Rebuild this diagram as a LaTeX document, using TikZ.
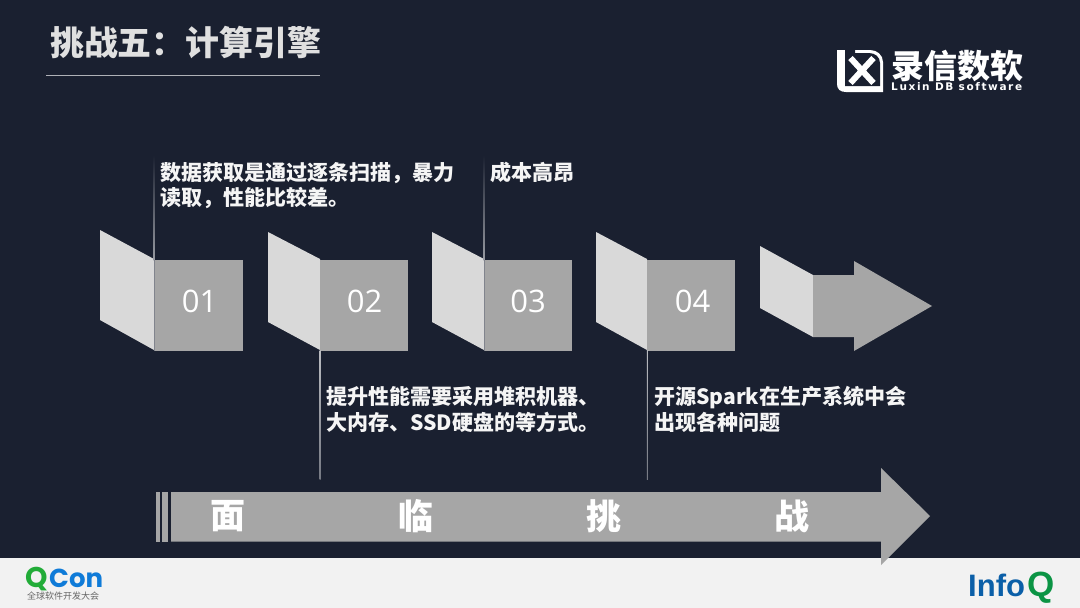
\documentclass[tikz,border=0pt]{standalone}
\usepackage{fontspec}
\setmainfont{Noto Sans CJK SC}
\newfontfamily\numfont{Open Sans}
\newfontfamily\latinlogo[LetterSpace=15.5]{DejaVu Sans}
\newfontfamily\logofont{Liberation Sans}
\newfontfamily\qfont{Poppins}
\definecolor{bgc}{HTML}{1A2030}
\definecolor{footc}{HTML}{F2F2F2}
\definecolor{pale}{HTML}{D9D9D9}
\definecolor{midg}{HTML}{A6A6A6}
\definecolor{qgreen}{HTML}{22AC38}
\definecolor{qblue}{HTML}{0F7BD8}
\definecolor{iblue}{HTML}{0B5FA8}
\definecolor{igreen}{HTML}{0B9444}
\tikzset{
  x=1pt,y=-1pt,
  panel/.style={fill=pale,draw=none},
  sq/.style={fill=midg,draw=none,minimum width=88pt,minimum height=91pt,inner sep=0pt,outer sep=0pt,anchor=north west},
  num/.style={text=white,font=\numfont\fontsize{31}{31}\selectfont,inner sep=0pt},
  body/.style={text=white!96!black,font=\bfseries\fontsize{21.05}{26}\selectfont,inner sep=0pt,anchor=base west},
  big/.style={text=white,font=\bfseries\fontsize{35}{35}\selectfont,inner sep=0pt},
}
\begin{document}
\begin{tikzpicture}[line join=miter]
\useasboundingbox (0,0) rectangle (1080,608);
\fill[bgc] (0,0) rectangle (1080,558);
\fill[footc] (0,558) rectangle (1080,608);
% title
\node[text=white!88!black,font=\bfseries\fontsize{33.9}{34}\selectfont,inner sep=0pt,anchor=base west] (title) at (50,55) {挑战五：计算引擎};
\coordinate (ruleL) at (46,75); \coordinate (ruleR) at (320,75);
\draw[line width=0.8pt,white!65!bgc] (ruleL) -- (ruleR);
% panels
\fill[panel] (100,230) -- (154,259) -- (154,350) -- (100,320) -- cycle;
\fill[panel] (268,232) -- (320,259) -- (320,350) -- (268,322) -- cycle;
\fill[panel] (432,232) -- (484,259) -- (484,350) -- (432,322) -- cycle;
\fill[panel] (596,232) -- (647,259) -- (647,350) -- (596,322) -- cycle;
\node[sq] (s1) at (154.5,260) {};
\node[sq] (s2) at (319.5,260) {};
\node[sq] (s3) at (483.5,260) {};
\node[sq] (s4) at (647,260) {};
\node[num] (n1) at (199.5,301) {01};
\node[num] (n2) at (364.5,301) {02};
\node[num] (n3) at (528,301) {03};
\node[num] (n4) at (692.5,301) {04};
% end arrow
\fill[panel] (760,246) -- (813,275) -- (813,337) -- (760,308) -- cycle;
\fill[midg] (813,275) -- (854,275) -- (854,261) -- (932,306) -- (854,351) -- (854,337) -- (813,337) -- cycle;
% leader lines
\shade[top color=bgc,bottom color=white!55!bgc] (153.6,155) rectangle (154.6,260);
\fill[white!45!bgc] (153.6,260) rectangle (154.6,351);
\shade[top color=bgc,bottom color=white!55!bgc] (483.6,155) rectangle (484.6,260);
\fill[white!45!bgc] (483.6,260) rectangle (484.6,351);
\shade[top color=white!70!bgc,bottom color=white!40!bgc] (319.6,350) rectangle (320.6,479);
\shade[top color=white!70!bgc,bottom color=white!40!bgc] (646.8,350) rectangle (647.8,479);
% texts
\node[body] (t1a) at (160,180) {数据获取是通过逐条扫描，暴力};
\node[body] (t1b) at (160,205) {读取，性能比较差。};
\node[body] (t3) at (490,180) {成本高昂};
\node[body] (t2a) at (326,404) {提升性能需要采用堆积机器、};
\node[body] (t2b) at (326,430) {大内存、SSD硬盘的等方式。};
\node[body] (t4a) at (654,404) {开源Spark在生产系统中会};
\node[body] (t4b) at (654,430) {出现各种问题};
% bottom arrow
\fill[midg] (156,492) rectangle (159.5,541.5);
\fill[midg] (162,492) rectangle (168,541.5);
\fill[midg] (171,492) -- (881,492) -- (881,468) -- (930,516) -- (881,565) -- (881,541.5) -- (171,541.5) -- cycle;
\node[big] (b1) at (227.5,516) {面};
\node[big] (b2) at (416,516) {临};
\node[big] (b3) at (604,516) {挑};
\node[big] (b4) at (792,516) {战};
% LX logo
\fill[white] (837,50) -- (845,50) -- (845,85) -- (855,85) -- (855,50) -- (870,50) .. controls (877,50) and (883,55) .. (883,62) -- (883,92) -- (846,92) .. controls (840,92) and (837,89) .. (837,84) -- cycle;
\fill[bgc] (855,53) -- (869,53) .. controls (875,53) and (880,57) .. (880,63) -- (880,86) -- (845,86) -- (845,50) -- (855,50) -- cycle;
\draw[white,line width=6pt] (850.5,58) -- (873.5,83) (873.5,58) -- (850.5,83);
\node[text=white,font=\bfseries\fontsize{33}{33}\selectfont,inner sep=0pt,anchor=west] (lg1) at (891,66) {录信数软};
\node[text=white,font=\latinlogo\bfseries\fontsize{10.5}{11}\selectfont,inner sep=0pt,anchor=west] (lg2) at (891,87) {Luxin DB software};
% QCon
\node[text=qgreen,font=\qfont\bfseries\fontsize{28.5}{29}\selectfont,inner sep=0pt,anchor=base west] (q1) at (25,587) {Q};
\node[text=qblue,font=\qfont\bfseries\fontsize{26}{28}\selectfont,inner sep=0pt,anchor=base west] (q2) at (49,587) {Con};
\node[text=black!60,font=\fontsize{9}{9}\selectfont,inner sep=0pt,anchor=base west] (q3) at (27,599) {全球软件开发大会};
% InfoQ
\node[text=iblue,font=\logofont\bfseries\fontsize{31}{31}\selectfont,inner sep=0pt,anchor=base west] (i1) at (968,596) {Info};
\node[text=igreen,font=\logofont\bfseries\fontsize{35}{35}\selectfont,inner sep=0pt,anchor=base west] (i2) at (1027,596) {Q};
\end{tikzpicture}
\end{document}
